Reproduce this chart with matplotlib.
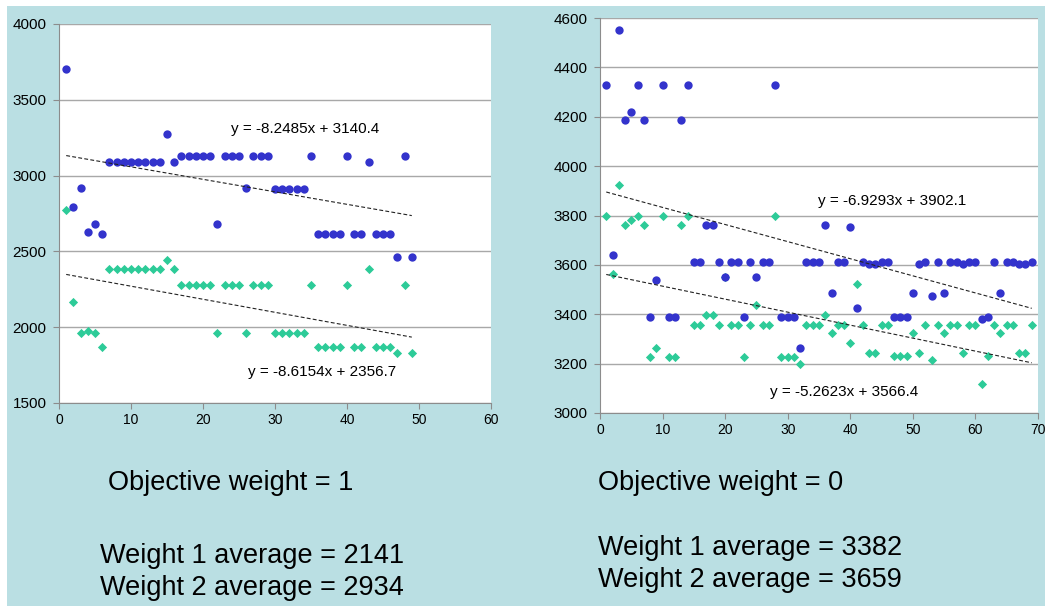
import numpy as np
import matplotlib
matplotlib.use('Agg')
import matplotlib.pyplot as plt
from matplotlib.patches import Rectangle

plt.rcParams['font.family'] = ['Liberation Sans', 'DejaVu Sans']

# objective weight = 1 (left chart), runs 1..49
left_x = list(range(1, 50))
left_blue = [3700, 2790, 2915, 2630, 2680, 2613,
             3092, 3092, 3092, 3092, 3092, 3092, 3092, 3092,
             3272, 3092, 3129, 3129, 3129, 3129, 3129, 2680,
             3129, 3129, 3129, 2915, 3129, 3129, 3129,
             2912, 2912, 2912, 2912, 2912, 3129,
             2613, 2613, 2613, 2613, 3129, 2613, 2613, 3092,
             2613, 2613, 2613, 2465, 3129, 2465]
left_green = [2770, 2164, 1960, 1975, 1960, 1872,
              2384, 2384, 2384, 2384, 2384, 2384, 2384, 2384,
              2443, 2384, 2278, 2278, 2278, 2278, 2278, 1963,
              2278, 2278, 2278, 1960, 2278, 2278, 2278,
              1960, 1960, 1960, 1960, 1960, 2278,
              1872, 1872, 1872, 1872, 2278, 1872, 1872, 2384,
              1872, 1872, 1872, 1828, 2278, 1828]
left_trend_blue = (-8.2485, 3140.4)
left_trend_green = (-8.6154, 2356.7)

# objective weight = 0 (right chart), runs 1..69
right_x = list(range(1, 70))
right_blue = [4330, 3640, 4550, 4185, 4220, 4330, 4185, 3390, 3540, 4330,
              3390, 3390, 4185, 4330, 3610, 3610, 3760, 3760, 3610, 3552,
              3610, 3610, 3390, 3610, 3549, 3610, 3610, 4330, 3390, 3390,
              3390, 3265, 3610, 3610, 3610, 3760, 3486, 3610, 3610, 3754,
              3425, 3610, 3605, 3605, 3610, 3610, 3390, 3390, 3390, 3485,
              3603, 3610, 3475, 3610, 3485, 3610, 3610, 3603, 3610, 3610,
              3382, 3390, 3610, 3485, 3610, 3610, 3603, 3603, 3610]
right_green = [3800, 3565, 3925, 3760, 3780, 3800, 3760, 3225, 3265, 3800,
               3225, 3225, 3760, 3800, 3355, 3355, 3395, 3395, 3355, 3550,
               3355, 3355, 3225, 3355, 3437, 3355, 3355, 3800, 3225, 3225,
               3225, 3198, 3355, 3355, 3355, 3395, 3326, 3355, 3355, 3282,
               3522, 3355, 3243, 3243, 3355, 3355, 3229, 3229, 3229, 3326,
               3243, 3355, 3213, 3355, 3326, 3355, 3355, 3243, 3355, 3355,
               3117, 3229, 3355, 3326, 3355, 3355, 3243, 3243, 3355]
right_trend_blue = (-6.9293, 3902.1)
right_trend_green = (-5.2623, 3566.4)

BG = '#BADFE3'
BLUE = '#3333CC'
GREEN = '#2DCB98'

fig = plt.figure(figsize=(10.47, 6.06), dpi=100)
fig.patch.set_facecolor('white')
fig.patches.append(Rectangle((7 / 1047, 0), 1038 / 1047, 1 - 6 / 606,
                             transform=fig.transFigure, facecolor=BG,
                             edgecolor='none', zorder=-10))


def draw_panel(ax, xs, blue, green, tb, tg, xmax, ylim, ystep, eq_b, eq_g):
    ax.set_facecolor('white')
    ax.set_xlim(0, xmax)
    ax.set_ylim(*ylim)
    ax.set_xticks(np.arange(0, xmax + 1, 10))
    ax.set_yticks(np.arange(ylim[0], ylim[1] + 1, ystep))
    ax.grid(axis='y', color='#a8a8a8', linewidth=1)
    ax.set_axisbelow(True)
    for s in ['top', 'right']:
        ax.spines[s].set_visible(False)
    for s in ['left', 'bottom']:
        ax.spines[s].set_color('#8c8c8c')
    ax.tick_params(direction='out', length=4, color='#8c8c8c')
    ax.tick_params(axis='y', labelsize=11, pad=5)
    ax.tick_params(axis='x', labelsize=10, pad=3)

    # green diamonds under the blue circles
    ax.scatter(xs, green, marker='D', s=22, color=GREEN, zorder=3,
               linewidths=0)
    ax.scatter(xs, blue, marker='o', s=36, color=BLUE, zorder=4,
               linewidths=0)

    # linear trend lines from first to last run
    xl = np.array([xs[0], xs[-1]])
    ax.plot(xl, tb[0] * xl + tb[1], color='#222222', lw=0.8,
            linestyle=(0, (3.5, 2)), zorder=5)
    ax.plot(xl, tg[0] * xl + tg[1], color='#222222', lw=0.8,
            linestyle=(0, (3.5, 2)), zorder=5)

    ax.text(eq_b[0], eq_b[1], f'y = {tb[0]}x + {tb[1]}', fontsize=11,
            ha='center', va='center', zorder=6)
    ax.text(eq_g[0], eq_g[1], f'y = {tg[0]}x + {tg[1]}', fontsize=11,
            ha='center', va='center', zorder=6)


ax1 = fig.add_axes([59 / 1047, 1 - 403 / 606, 432 / 1047, 379 / 606])
draw_panel(ax1, left_x, left_blue, left_green, left_trend_blue,
           left_trend_green, 60, (1500, 4000), 500,
           (34.2, 3307), (36.5, 1704))

ax2 = fig.add_axes([600 / 1047, 1 - 413 / 606, 438 / 1047, 395 / 606])
draw_panel(ax2, right_x, right_blue, right_green, right_trend_blue,
           right_trend_green, 70, (3000, 4600), 200,
           (46.7, 3859), (39.0, 3086))

fs = 19.5
fig.text(108 / 1047, 1 - 483 / 606, 'Objective weight = 1', fontsize=fs,
         va='center')
fig.text(100 / 1047, 1 - 556 / 606, 'Weight 1 average = 2141', fontsize=fs,
         va='center')
fig.text(100 / 1047, 1 - 588 / 606, 'Weight 2 average = 2934', fontsize=fs,
         va='center')
fig.text(598 / 1047, 1 - 483 / 606, 'Objective weight = 0', fontsize=fs,
         va='center')
fig.text(598 / 1047, 1 - 548 / 606, 'Weight 1 average = 3382', fontsize=fs,
         va='center')
fig.text(598 / 1047, 1 - 580 / 606, 'Weight 2 average = 3659', fontsize=fs,
         va='center')

fig.savefig('out.png', dpi=100, facecolor=fig.get_facecolor())
